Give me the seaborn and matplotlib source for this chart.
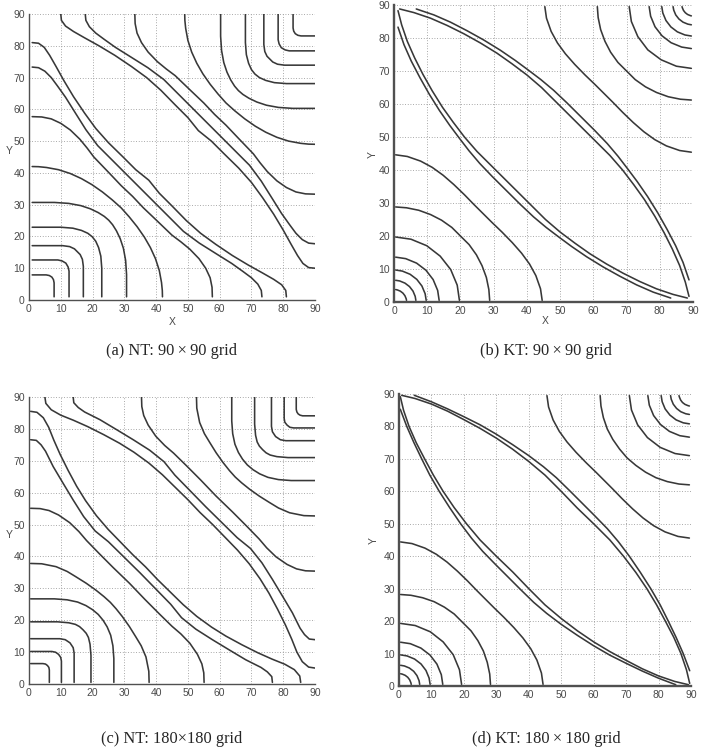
import matplotlib
matplotlib.use("Agg")
import matplotlib.pyplot as plt
import seaborn as sns

# Contour lines. Every contour is symmetric about y = x,
# so only the half from its edge end to the diagonal is kept; the other half
# is its mirror image.

# (a) NT 90x90 : lower-left family (from x axis to diagonal)
a_low_x = [
    [7.9, 7.9, 7.7, 7.2],
    [12.6, 12.6, 12.3, 11.6],
    [17.1, 17.1, 16.8, 16.1, 15.2],
    [22.9, 22.9, 22.6, 21.9, 21.0, 19.9],
    [30.7, 30.7, 30.4, 29.7, 28.7, 27.5, 26.3, 25.1],
    [42.0, 41.95, 41.7, 41.0, 39.8, 38.2, 36.3, 34.0, 31.5, 29.0],
    [57.7, 57.6, 57.0, 55.6, 53.5, 50.6, 47.8, 45.0, 40.0, 36.0, 32.6],
    [73.3, 73.1, 72.0, 70.0, 67.3, 63.8, 59.0, 53.6, 48.6, 44.8, 40.0, 35.1],
    [81.0, 80.8, 79.5, 77.0, 73.5, 69.0, 64.0, 58.8, 54.0, 49.5, 45.0, 41.0, 37.7],
]
a_low_y = [
    [1, 5.4, 6.4, 7.2],
    [1, 9.1, 10.4, 11.6],
    [1, 10.6, 12.8, 14.3, 15.2],
    [1, 10.0, 13.8, 16.5, 18.5, 19.9],
    [1, 8.0, 12.5, 16.3, 19.3, 21.8, 23.7, 25.1],
    [1, 3.0, 5.5, 9.3, 13.0, 16.5, 19.8, 23.1, 26.2, 29.0],
    [1, 4.0, 7.0, 10.0, 13.0, 16.0, 18.3, 20.4, 25.2, 29.0, 32.6],
    [1, 3.0, 5.0, 7.0, 9.0, 11.5, 14.5, 17.9, 21.6, 25.4, 30.2, 35.1],
    [1, 3.0, 4.8, 6.5, 8.5, 11.0, 14.0, 17.5, 21.0, 25.0, 29.6, 33.6, 37.7],
]
# (a) upper-right family (from right edge to diagonal)
a_up_x = [
    [90, 88, 86.2, 84.5, 82.5, 80, 77, 73.5, 70, 66, 61.4, 57.4, 53.3],
    [90, 88, 86, 84, 82, 79.5, 76.5, 73.1, 69.4, 65.6, 60.8, 55.9],
    [90, 87, 84, 81, 78, 75, 72.7, 70.6, 65.8, 62, 58.4],
    [90, 88, 85.5, 81.7, 78, 74.5, 71.2, 67.9, 64.8, 62],
    [90, 83, 78.5, 74.7, 71.7, 69.2, 67.3, 65.9],
    [90, 81, 77.2, 74.5, 72.5, 71.1],
    [90, 80.4, 78.2, 76.7, 75.8],
    [90, 81.9, 80.6, 79.4],
    [90, 85.6, 84.6, 83.8],
]
a_up_y = [
    [10, 10.2, 11.5, 14, 17.5, 22, 27, 32.2, 37, 41.5, 46, 50, 53.3],
    [17.7, 17.9, 19, 21, 23.7, 27.2, 32, 37.4, 42.4, 46.2, 51, 55.9],
    [33.3, 33.4, 34, 35.4, 37.5, 40.4, 43.2, 46, 51, 55, 58.4],
    [49, 49.05, 49.3, 50, 51.2, 52.8, 54.7, 57, 59.5, 62],
    [60.3, 60.3, 60.6, 61.3, 62.3, 63.5, 64.7, 65.9],
    [68.1, 68.1, 68.4, 69.1, 70, 71.1],
    [73.9, 73.9, 74.2, 74.9, 75.8],
    [78.4, 78.4, 78.7, 79.4],
    [83.1, 83.1, 83.3, 83.8],
]

# (b) KT 90x90
b_low_x = [
    [3.77, 3.67, 3.29, 2.69],
    [6.58, 6.38, 5.72, 4.67],
    [9.69, 9.37, 8.4, 6.86],
    [13.59, 13.14, 11.78, 9.62],
    [19.69, 19.03, 17.06, 13.9],
    [28.8, 28.55, 27.8, 26.5, 24.8, 22.6, 20.0],
    [44.6, 44.1, 42.7, 40.8, 38.4, 35.6, 32.5, 29.5, 26.8],
    [83.3, 78, 73, 68, 63, 58, 53.5, 49.6, 45.8, 42, 38, 33.8],
    [88.3, 84, 79, 74, 69, 64, 59, 54.5, 50, 45.6, 40.5, 35.3],
]
b_low_y = [
    [0.5, 0.98, 1.9, 2.69],
    [0.5, 1.71, 3.3, 4.67],
    [0.5, 2.51, 4.85, 6.86],
    [0.5, 3.52, 6.8, 9.62],
    [0.5, 5.1, 9.85, 13.9],
    [0.5, 3.77, 7.45, 11.0, 14.3, 17.4, 20.0],
    [0.5, 4, 8, 11.5, 14.8, 18, 21.2, 24.1, 26.8],
    [1.2, 3, 5.2, 7.8, 10.6, 13.7, 16.8, 19.7, 22.6, 25.8, 29.6, 33.8],
    [1.2, 2.3, 4, 6.2, 8.7, 11.5, 14.6, 17.8, 21.2, 25, 30.1, 35.3],
]
b_up_x = [
    [88.8, 87.7, 86, 83.8, 81.3, 78.5, 75.4, 72.2, 68.8, 65, 59.9, 54.7],
    [88.8, 87, 84.8, 82.2, 79.4, 76.3, 73.2, 70.3, 67.4, 64.2, 60.4, 56.2],
    [89.5, 86, 82, 78.5, 75.2, 72, 68.8, 65.9, 63.2],
    [89.5, 86.2, 82.55, 79, 75.7, 72.6, 70],
    [89.5, 85.0, 80.4, 76.4],
    [89.5, 86.6, 83.4, 80.67],
    [89.5, 87.57, 85.3, 83.35],
    [89.5, 88.45, 87.0, 85.76],
    [89.5, 89.15, 88.35, 87.67],
]
b_up_y = [
    [1.7, 6, 11, 16, 21, 26, 31, 35.5, 40, 44.4, 49.5, 54.7],
    [6.7, 12, 17, 22, 27, 32, 36.5, 40.4, 44.2, 48, 52, 56.2],
    [45.4, 45.9, 47.3, 49.2, 51.6, 54.4, 57.5, 60.5, 63.2],
    [61.2, 61.45, 62.2, 63.5, 65.2, 67.4, 70],
    [70.8, 71.45, 73.4, 76.4],
    [76.8, 77.25, 78.57, 80.67],
    [80.6, 80.92, 81.86, 83.35],
    [84.0, 84.2, 84.8, 85.76],
    [86.7, 86.8, 87.14, 87.67],
]

# (c) NT 180x180
c_low_x = [
    [6.4, 6.4, 6.25, 5.8],
    [10.2, 10.2, 9.97, 9.3],
    [14.2, 14.2, 13.9, 12.9],
    [19.5, 19.5, 19.2, 18.7, 18.0, 17.0],
    [26.7, 26.7, 26.4, 25.7, 24.6, 23.3, 21.8],
    [37.8, 37.7, 36.8, 35.3, 33.6, 31.6, 29.4, 27.4, 25.6],
    [55.1, 55.0, 54.4, 53.0, 50.6, 47.8, 45.0, 41.0, 36.5, 31.6],
    [76.6, 76.4, 75.0, 73.0, 68.2, 63.0, 57.7, 52.5, 48.0, 44.6, 39.7, 34.9],
    [85.5, 85.2, 83.5, 80.5, 76.5, 72.0, 67.0, 62.0, 57.5, 52.8, 48.5, 44.5, 40.5, 36.7],
]
c_low_y = [
    [0.5, 4.4, 5.2, 5.8],
    [0.5, 7.2, 8.35, 9.3],
    [0.5, 9.7, 11.4, 12.9],
    [0.5, 9.0, 12.5, 14.6, 15.9, 17.0],
    [0.5, 8.0, 12.0, 15.3, 17.9, 20.0, 21.8],
    [0.5, 4.0, 8.5, 12.0, 14.8, 18.0, 21.1, 23.6, 25.6],
    [0.5, 3.5, 6.3, 9.3, 12.8, 15.7, 18.1, 22.0, 26.5, 31.6],
    [0.5, 2.3, 3.8, 5.2, 7.6, 10.7, 13.9, 17.2, 20.8, 25.0, 30.0, 34.9],
    [0.5, 2.5, 4.5, 6.2, 7.8, 9.8, 12.3, 15.0, 17.8, 21.2, 24.9, 28.8, 32.7, 36.7],
]
c_up_x = [
    [90, 88, 86, 84.3, 82.7, 80.7, 78.2, 75.5, 72.7, 69.3, 65.6, 61.7, 57.8, 53.8],
    [90, 88.2, 86.7, 85.3, 82.9, 79.8, 76.6, 73.3, 69.7, 65.5, 60.5, 55.6],
    [90, 87, 84.2, 81.2, 77.7, 74.8, 72.4, 68.5, 64, 58.9],
    [90, 86.5, 82, 78.5, 75.7, 72.5, 69.4, 66.9, 64.9],
    [90, 82.5, 78.5, 75.2, 72.6, 70.5, 68.7],
    [90, 81.5, 78, 75.9, 74.6, 73.5],
    [90, 80.8, 79.1, 77.6],
    [90, 83.3, 82.1, 81.2],
    [90, 86.1, 85.3, 84.7],
]
c_up_y = [
    [5, 5.3, 7, 10, 14, 18.5, 23.5, 28.5, 33, 37.7, 42, 46, 50, 53.8],
    [13.9, 14.1, 15.5, 17.5, 22.3, 27.5, 32.8, 38, 42.5, 45.9, 50.8, 55.6],
    [35.4, 35.5, 36.1, 37.5, 39.9, 42.7, 45.5, 49.5, 54, 58.9],
    [52.7, 52.8, 53.7, 55.2, 56.9, 58.9, 61.1, 63.1, 64.9],
    [63.8, 63.8, 64.1, 64.8, 65.9, 67.2, 68.7],
    [71, 71, 71.3, 71.8, 72.5, 73.5],
    [76.3, 76.3, 76.6, 77.6],
    [80.3, 80.3, 80.5, 81.2],
    [84.1, 84.1, 84.3, 84.7],
]

# (d) KT 180x180
d_low_x = [
    [3.77, 3.67, 3.29, 2.69],
    [6.38, 6.18, 5.54, 4.53],
    [9.59, 9.27, 8.31, 6.79],
    [13.49, 13.04, 11.69, 9.55],
    [19.29, 18.64, 16.71, 13.6],
    [28.2, 27.96, 27.2, 26.0, 24.3, 22.2, 19.6],
    [44.4, 43.9, 42.5, 40.6, 38.2, 35.4, 32.3, 29.3, 26.7],
    [85.3, 80, 75, 70, 65, 60, 55, 50, 45.5, 41.5, 37.5, 33.6],
    [89.2, 85, 80, 75, 70, 65, 60, 55, 50, 45, 40.1, 35.1],
]
d_low_y = [
    [0.5, 0.98, 1.9, 2.69],
    [0.5, 1.66, 3.2, 4.53],
    [0.5, 2.48, 4.8, 6.79],
    [0.5, 3.5, 6.75, 9.55],
    [0.5, 5.0, 9.65, 13.6],
    [0.5, 3.7, 7.3, 10.8, 14.0, 17.0, 19.6],
    [0.5, 4, 8, 11.5, 14.8, 18, 21.2, 24.1, 26.7],
    [0.4, 2.4, 4.6, 7, 9.5, 12.4, 15.6, 19, 22.4, 25.8, 29.7, 33.6],
    [0.4, 1.4, 3.1, 5.3, 7.9, 10.6, 13.6, 17, 20.8, 25, 29.9, 35.1],
]
d_up_x = [
    [89.6, 88.6, 86.9, 84.7, 82.1, 79.4, 76.4, 73, 69.2, 65, 60.1, 54.9],
    [89.6, 87.6, 85.4, 83, 80.5, 77.6, 74.4, 71, 67.6, 64.2, 60.3, 56.4],
    [89.5, 86, 82, 78.5, 75.2, 72, 68.8, 65.9, 63.3],
    [89.5, 86.3, 82.7, 79.2, 76, 73, 70.3],
    [89.5, 85.08, 80.5, 76.57],
    [89.5, 86.56, 83.35, 80.6],
    [89.5, 87.62, 85.4, 83.5],
    [89.5, 88.37, 86.85, 85.55],
    [89.5, 89.04, 88.15, 87.38],
]
d_up_y = [
    [0.8, 5, 10, 15, 20, 25, 30, 35, 40, 45, 49.9, 54.9],
    [4.7, 10, 15, 20, 25, 30, 35, 40, 44.5, 48.5, 52.5, 56.4],
    [45.6, 46.1, 47.5, 49.4, 51.8, 54.6, 57.7, 60.7, 63.3],
    [62, 62.25, 63, 64.2, 65.9, 68, 70.3],
    [71, 71.65, 73.55, 76.57],
    [76.7, 77.15, 78.48, 80.6],
    [80.8, 81.11, 82.03, 83.5],
    [83.7, 83.91, 84.54, 85.55],
    [86.3, 86.43, 86.8, 87.38],
]

ticks = list(range(0, 91, 10))
captions = ["(a) NT: 90\u2009\u00d7\u200990 grid", "(b) KT: 90\u2009\u00d7\u200990 grid",
            "(c) NT: 180\u00d7180 grid", "(d) KT: 180\u2009\u00d7\u2009180 grid"]

sns.set_style("white")
plt.rcParams["font.family"] = ["Liberation Sans", "DejaVu Sans"]

fig = plt.figure(figsize=(7.02, 7.56), dpi=100)
W, H = 702.0, 756.0


def add_axes(left, top, right, bottom):
    return fig.add_axes([left / W, 1 - bottom / H, (right - left) / W, (bottom - top) / H])


panels = [
    (add_axes(29, 14, 315, 300), a_low_x, a_low_y, a_up_x, a_up_y, 1.0),
    (add_axes(394, 5, 693, 302), b_low_x, b_low_y, b_up_x, b_up_y, 1.7),
    (add_axes(29, 397, 315, 684), c_low_x, c_low_y, c_up_x, c_up_y, 1.0),
    (add_axes(399, 394, 691, 686), d_low_x, d_low_y, d_up_x, d_up_y, 1.7),
]

for ax, lx, ly, ux, uy, spw in panels:
    for xs, ys in zip(lx + ux, ly + uy):
        # half curve plus its mirror across y = x
        fx = xs + ys[::-1][1:]
        fy = ys + xs[::-1][1:]
        sns.lineplot(x=fx, y=fy, sort=False, estimator=None, ax=ax,
                     color="#383838", lw=1.15)
    ax.set_xlim(0, 90)
    ax.set_ylim(0, 90)
    ax.set_xticks(ticks)
    ax.set_yticks(ticks)
    ax.grid(True, ls=(0, (1, 2.2)), color="#8c8c8c", lw=0.6)
    ax.set_axisbelow(True)
    for s in ["top", "right"]:
        ax.spines[s].set_visible(False)
    for s in ["left", "bottom"]:
        ax.spines[s].set_color("#505050")
        ax.spines[s].set_linewidth(spw)
    ax.tick_params(direction="in", length=2.5, width=0.6, color="#505050",
                   labelsize=7.5, labelcolor="#4a4a4a", pad=3)
    ax.set_xlabel("")
    ax.set_ylabel("")

# axis titles
ax_a, ax_b, ax_c, ax_d = [p[0] for p in panels]
lab = dict(fontsize=7.5, color="#4a4a4a")
ax_a.text(0.5, -0.077, "X", transform=ax_a.transAxes, ha="center", va="center", **lab)
ax_a.text(-0.07, 0.52, "Y", transform=ax_a.transAxes, ha="center", va="center", **lab)
ax_b.text(0.505, -0.063, "X", transform=ax_b.transAxes, ha="center", va="center", **lab)
ax_b.text(-0.07, 0.497, "Y", transform=ax_b.transAxes, ha="center", va="center", rotation=90, **lab)
ax_c.text(-0.07, 0.52, "Y", transform=ax_c.transAxes, ha="center", va="center", **lab)
ax_d.text(-0.086, 0.5, "Y", transform=ax_d.transAxes, ha="center", va="center", rotation=90, **lab)

cap_pos = [(172, 351), (546, 351), (172, 739), (546, 739)]
for (cx, cy), txt in zip(cap_pos, captions):
    fig.text(cx / W, 1 - cy / H, txt, ha="center", va="center",
             family=["Liberation Serif", "DejaVu Serif"], fontsize=11.8)

fig.savefig("out.png", dpi=100)
